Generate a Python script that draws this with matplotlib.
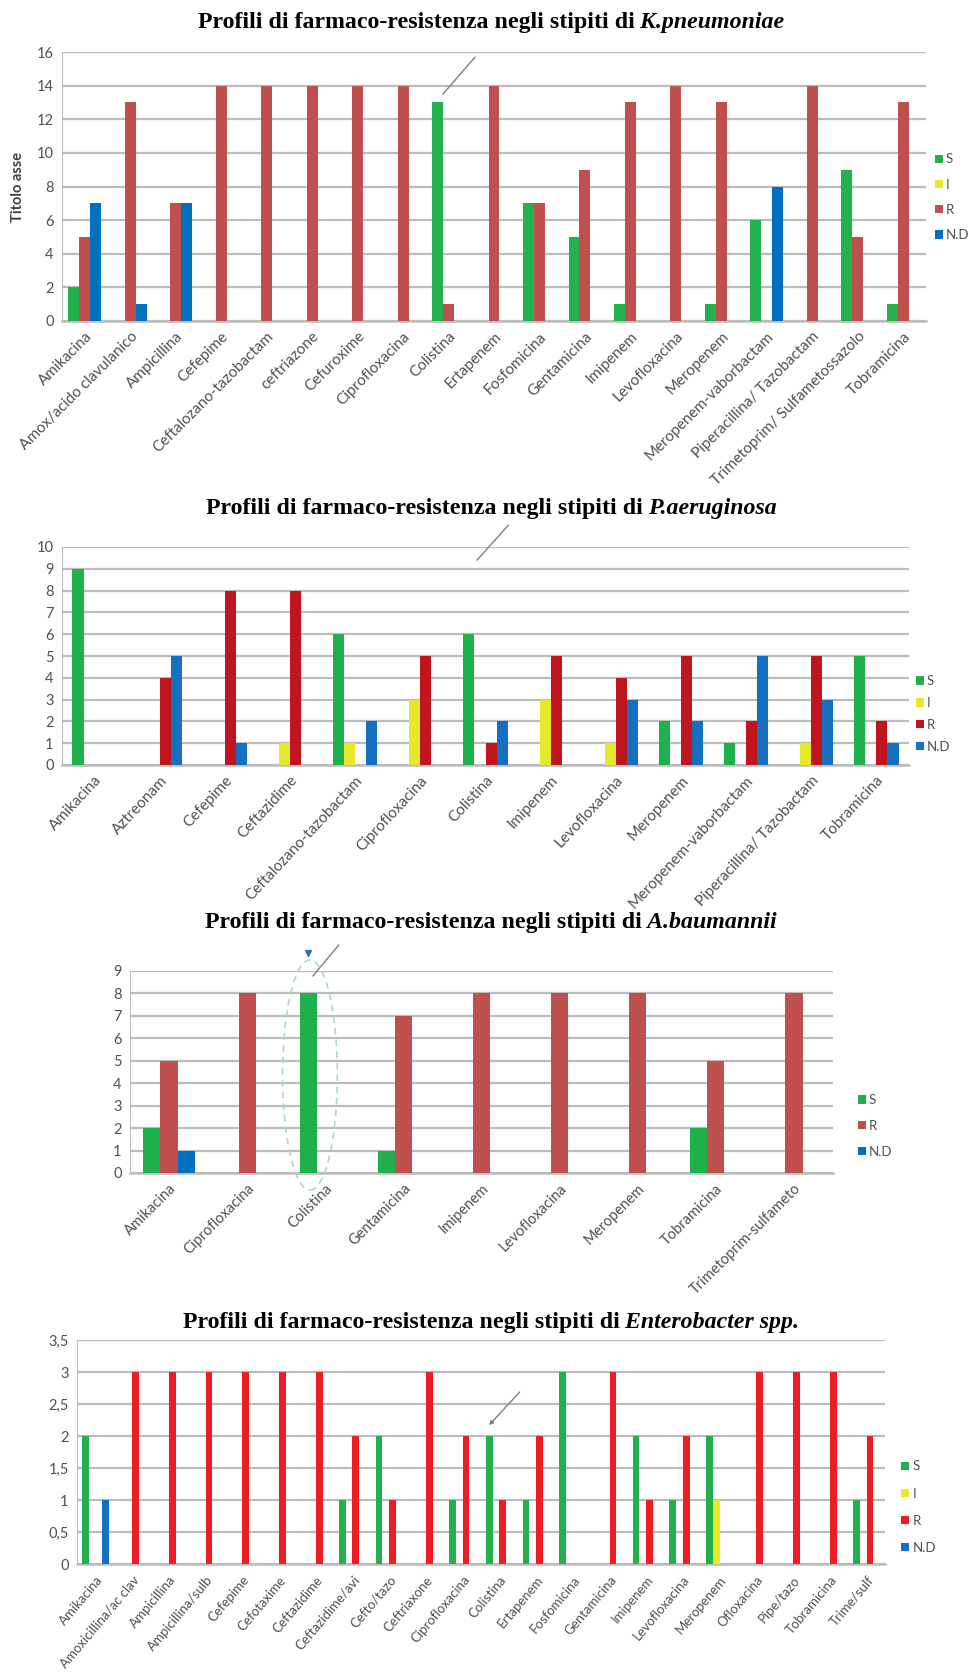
import matplotlib
matplotlib.use('Agg')
import matplotlib.pyplot as plt
import numpy as np
from matplotlib.patches import Patch, Ellipse
from matplotlib.ticker import MultipleLocator, FuncFormatter

plt.rcParams['font.family'] = ['Lato', 'DejaVu Sans']

W, H = 971, 1680

# K.pneumoniae
kp_drugs = ["Amikacina", "Amox/acido clavulanico", "Ampicillina", "Cefepime",
            "Ceftalozano-tazobactam", "ceftriazone", "Cefuroxime", "Ciprofloxacina",
            "Colistina", "Ertapenem", "Fosfomicina", "Gentamicina", "Imipenem",
            "Levofloxacina", "Meropenem", "Meropenem-vaborbactam",
            "Piperacillina/ Tazobactam", "Trimetoprim/ Sulfametossazolo", "Tobramicina"]
kp_S = [2, 0, 0, 0, 0, 0, 0, 0, 13, 0, 7, 5, 1, 0, 1, 6, 0, 9, 1]
kp_I = [0, 0, 0, 0, 0, 0, 0, 0, 0, 0, 0, 0, 0, 0, 0, 0, 0, 0, 0]
kp_R = [5, 13, 7, 14, 14, 14, 14, 14, 1, 14, 7, 9, 13, 14, 13, 0, 14, 5, 13]
kp_ND = [7, 1, 7, 0, 0, 0, 0, 0, 0, 0, 0, 0, 0, 0, 0, 8, 0, 0, 0]

# P.aeruginosa
pa_drugs = ["Amikacina", "Aztreonam", "Cefepime", "Ceftazidime", "Ceftalozano-tazobactam",
            "Ciprofloxacina", "Colistina", "Imipenem", "Levofloxacina", "Meropenem",
            "Meropenem-vaborbactam", "Piperacillina/ Tazobactam", "Tobramicina"]
pa_S = [9, 0, 0, 0, 6, 0, 6, 0, 0, 2, 1, 0, 5]
pa_I = [0, 0, 0, 1, 1, 3, 0, 3, 1, 0, 0, 1, 0]
pa_R = [0, 4, 8, 8, 0, 5, 1, 5, 4, 5, 2, 5, 2]
pa_ND = [0, 5, 1, 0, 2, 0, 2, 0, 3, 2, 5, 3, 1]

# A.baumannii
ab_drugs = ["Amikacina", "Ciprofloxacina", "Colistina", "Gentamicina", "Imipenem",
            "Levofloxacina", "Meropenem", "Tobramicina", "Trimetoprim-sulfameto"]
ab_S = [2, 0, 8, 1, 0, 0, 0, 2, 0]
ab_R = [5, 8, 0, 7, 8, 8, 8, 5, 8]
ab_ND = [1, 0, 0, 0, 0, 0, 0, 0, 0]

# Enterobacter spp.
en_drugs = ["Amikacina", "Amoxicillina/ac clav", "Ampicillina", "Ampicillina/sulb",
            "Cefepime", "Cefotaxime", "Ceftazidime", "Ceftazidime/avi", "Cefto/tazo",
            "Ceftriaxone", "Ciprofloxacina", "Colistina", "Ertapenem", "Fosfomicina",
            "Gentamicina", "Imipenem", "Levofloxacina", "Meropenem", "Ofloxacina",
            "Pipe/tazo", "Tobramicina", "Trime/sulf"]
en_S = [2, 0, 0, 0, 0, 0, 0, 1, 2, 0, 1, 2, 1, 3, 0, 2, 1, 2, 0, 0, 0, 1]
en_I = [0, 0, 0, 0, 0, 0, 0, 0, 0, 0, 0, 0, 0, 0, 0, 0, 0, 1, 0, 0, 0, 0]
en_R = [0, 3, 3, 3, 3, 3, 3, 2, 1, 3, 2, 1, 2, 0, 3, 1, 2, 0, 3, 3, 3, 2]
en_ND = [1, 0, 0, 0, 0, 0, 0, 0, 0, 0, 0, 0, 0, 0, 0, 0, 0, 0, 0, 0, 0, 0]

GRID = '#BCBCBC'
TXT = '#505050'

fig = plt.figure(figsize=(W / 100, H / 100), dpi=100)


def px_axes(left, top, right, bottom):
    return fig.add_axes([left / W, 1 - bottom / H, (right - left) / W, (bottom - top) / H])


def draw_panel(ax, drugs, series, slots, width, ymax, ystep, leg_x, leg_y, leg_space,
               xfs, rot=45, pad=6):
    x = np.arange(len(drugs))
    handles = []
    for name, vals, color in series:
        if name in slots:
            off = (slots.index(name) - (len(slots) - 1) / 2) * width
            ax.bar(x + off, vals, width, color=color, zorder=3, linewidth=0)
        handles.append(Patch(facecolor=color, label=name))
    ax.set_xlim(-0.5, len(drugs) - 0.5)
    ax.set_ylim(0, ymax)
    ax.yaxis.set_major_locator(MultipleLocator(ystep))
    ax.yaxis.grid(True, color=GRID, lw=1.6)
    ax.set_axisbelow(True)
    for s in ['top', 'right']:
        ax.spines[s].set_visible(False)
    ax.spines['left'].set_color(GRID)
    ax.spines['bottom'].set_color(GRID)
    ax.spines['bottom'].set_linewidth(1.8)
    ax.set_xticks(x)
    ax.set_xticklabels(drugs, rotation=rot, ha='right', rotation_mode='anchor',
                       fontsize=xfs, color=TXT)
    ax.tick_params(axis='x', length=0, pad=pad)
    ax.tick_params(axis='y', length=0, pad=6, labelsize=10.5, labelcolor=TXT)
    ax.legend(handles=handles, loc='center left', bbox_to_anchor=(leg_x, leg_y),
              frameon=False, handlelength=0.6, handleheight=0.6, handletextpad=0.25,
              labelspacing=leg_space, fontsize=9.5, labelcolor=TXT, borderaxespad=0,
              borderpad=0)


def title(ycen, main, species):
    r = fig.canvas.get_renderer()
    kw = dict(fontfamily='Liberation Serif', fontweight='bold', fontsize=17.2, va='baseline')
    y = 1 - (ycen + 6) / H
    t1 = fig.text(0, y, main, **kw)
    t2 = fig.text(0, y, species, style='italic', **kw)
    w1 = t1.get_window_extent(r).width
    w2 = t2.get_window_extent(r).width
    x0 = 491 - (w1 + w2) / 2
    t1.set_x(x0 / W)
    t2.set_x((x0 + w1) / W)


def pointer(ax, x1, y1, x2, y2, head=False):
    ax.annotate('', xy=(x2, y2), xytext=(x1, y1), xycoords='axes fraction',
                textcoords='axes fraction', annotation_clip=False,
                arrowprops=dict(arrowstyle='-|>' if head else '-', color='#808080',
                                lw=1, mutation_scale=6, shrinkA=0, shrinkB=0))


main = "Profili di farmaco-resistenza negli stipiti di"

# panel 1
ax1 = px_axes(62, 52, 926, 321)
draw_panel(ax1, kp_drugs,
           [("S", kp_S, '#22B14C'), ("I", kp_I, '#E8E830'),
            ("R", kp_R, '#C0504D'), ("N.D", kp_ND, '#0070C0')],
           ["S", "R", "N.D"], 0.24, 16, 2, 1.01, 0.46, 1.0, 11)
ax1.set_ylabel("Titolo asse", fontweight='bold', fontsize=10.5, color='#404040')
ax1.yaxis.set_label_coords((25 - 62) / 864, 0.5)
title(22, main, " K.pneumoniae")
pointer(ax1, 0.478, 0.981, 0.441, 0.844)

# panel 2
ax2 = px_axes(62, 547, 909, 765)
draw_panel(ax2, pa_drugs,
           [("S", pa_S, '#1FB04B'), ("I", pa_I, '#E8E82A'),
            ("R", pa_R, '#C0141E'), ("N.D", pa_ND, '#1570C0')],
           ["S", "I", "R", "N.D"], 0.17, 10, 1, 1.008, 0.234, 0.75, 11, rot=47)
title(508, main, " P.aeruginosa")
pointer(ax2, 0.527, 1.10, 0.490, 0.94)

# panel 3
ax3 = px_axes(130, 971, 833, 1173)
draw_panel(ax3, ab_drugs,
           [("S", ab_S, '#1FB04B'), ("R", ab_R, '#C0504D'), ("N.D", ab_ND, '#0070C0')],
           ["S", "R", "N.D"], 0.22, 9, 1, 1.035, 0.233, 1.05, 10.5)
title(922, main, " A.baumannii")
pointer(ax3, 0.297, 1.129, 0.260, 0.975)
ax3.add_patch(Ellipse((0.256, 0.485), 0.078, 1.14, transform=ax3.transAxes, fill=False,
                      ec='#A8D8D4', ls=(0, (4, 3)), lw=1.2, clip_on=False, zorder=4))
ax3.plot([0.253], [1.089], marker='v', color='#2E6FB5', markersize=5,
         transform=ax3.transAxes, clip_on=False)

# panel 4
ax4 = px_axes(77, 1340, 885, 1564)
draw_panel(ax4, en_drugs,
           [("S", en_S, '#22B14C'), ("I", en_I, '#EAEA2A'),
            ("R", en_R, '#EE1C24'), ("N.D", en_ND, '#1570C0')],
           ["S", "I", "R", "N.D"], 0.185, 3.5, 0.5, 1.02, 0.254, 1.15, 9.5, rot=50, pad=7)
ax4.yaxis.set_major_formatter(FuncFormatter(lambda v, p: ('%g' % v).replace('.', ',')))
title(1322, main, " Enterobacter spp.")
pointer(ax4, 0.548, 0.768, 0.510, 0.62, head=True)

fig.savefig('out.png', dpi=100)
